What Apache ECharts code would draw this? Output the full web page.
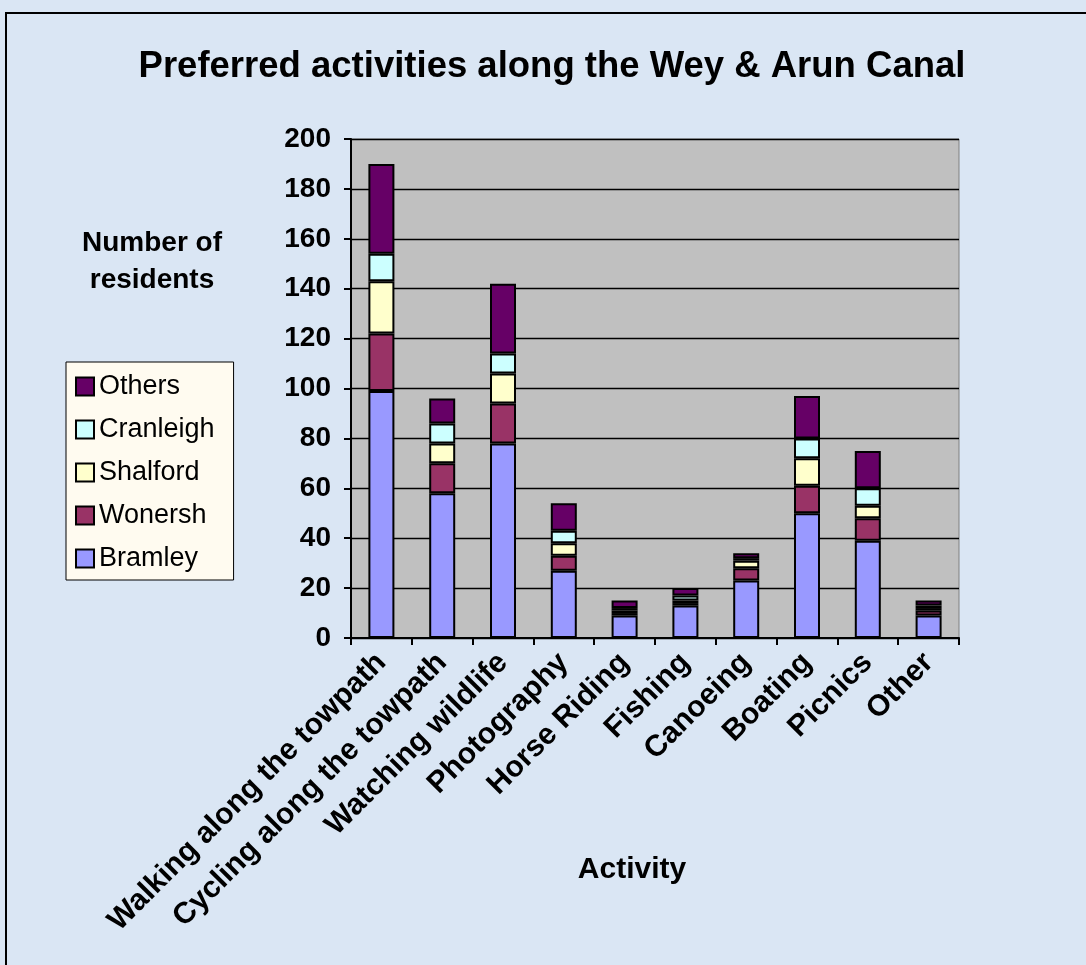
<!DOCTYPE html>
<html lang="en">
<head>
    <meta charset="UTF-8">
    <title>Wey & Arun Canal activities</title>
    <script src="https://cdn.jsdelivr.net/npm/echarts@6/dist/echarts.min.js"></script>
    <style>
        html, body { margin: 0; padding: 0; background: #dae6f4; }
    </style>
</head>
<body>
    <div id="chart" style="width: 1086px; height: 965px;"></div>
    <script>
        // categories and values
        var activities = ['Walking along the towpath', 'Cycling along the towpath', 'Watching wildlife',
            'Photography', 'Horse Riding', 'Fishing', 'Canoeing', 'Boating', 'Picnics', 'Other']
        var bramley   = [99, 58, 78, 27, 9, 13, 23, 50, 39, 9]
        var wonersh   = [23, 12, 16, 6, 1, 1, 5, 11, 9, 2]
        var shalford  = [21, 8, 12, 5, 1, 1, 3, 11, 5, 1]
        var cranleigh = [11, 8, 8, 5, 1, 2, 1, 8, 7, 1]
        var others    = [36, 10, 28, 11, 3, 3, 2, 17, 15, 2]
        var legendOrder = ['Others', 'Cranleigh', 'Shalford', 'Wonersh', 'Bramley']

        var font = 'Liberation Sans, Arial, sans-serif'

        function stackSeries(name, data, color) {
            return {
                name: name,
                type: 'bar',
                stack: 'total',
                barWidth: 26,
                data: data,
                itemStyle: { color: color, borderColor: '#000', borderWidth: 2 }
            }
        }

        var chart = echarts.init(document.getElementById('chart'))

        var option = {
            backgroundColor: '#dae6f4',
            animation: false,
            textStyle: { fontFamily: font },
            graphic: [
                {
                    type: 'rect',
                    shape: { x: 6, y: 13, width: 1200, height: 1200 },
                    style: { fill: 'none', stroke: '#000', lineWidth: 2 }
                },
                {
                    type: 'text', x: 552, y: 67,
                    style: { text: 'Preferred activities along the Wey & Arun Canal', font: 'bold 36.5px ' + font,
                        fill: '#000', textAlign: 'center', textVerticalAlign: 'middle' }
                },
                {
                    type: 'text', x: 152, y: 262,
                    style: { text: 'Number of\nresidents', font: 'bold 28px ' + font, lineHeight: 37,
                        fill: '#000', textAlign: 'center', textVerticalAlign: 'middle' }
                },
                {
                    type: 'text', x: 632, y: 870,
                    style: { text: 'Activity', font: 'bold 30px ' + font,
                        fill: '#000', textAlign: 'center', textVerticalAlign: 'middle' }
                }
            ],
            legend: {
                data: legendOrder,
                orient: 'vertical',
                left: 66,
                top: 362,
                icon: 'rect',
                itemWidth: 18,
                itemHeight: 18,
                itemGap: 16,
                padding: [11, 19, 8, 9],
                backgroundColor: '#fffbf0',
                borderColor: '#000',
                borderWidth: 1,
                textStyle: { fontSize: 27, color: '#000', fontFamily: font }
            },
            grid: {
                left: 351, top: 139, width: 608, height: 499,
                show: true,
                backgroundColor: '#c0c0c0',
                borderColor: '#808080',
                borderWidth: 1
            },
            xAxis: {
                type: 'category',
                data: activities,
                axisLine: { lineStyle: { color: '#000', width: 2 } },
                axisTick: { show: true, length: 7, lineStyle: { color: '#000', width: 2 } },
                axisLabel: { rotate: 45, margin: 20, fontSize: 30, fontWeight: 'bold', color: '#000', fontFamily: font, interval: 0 }
            },
            yAxis: {
                type: 'value',
                min: 0, max: 200, interval: 20,
                axisLine: { show: true, lineStyle: { color: '#000', width: 2 } },
                axisTick: { show: true, length: 7, lineStyle: { color: '#000', width: 2 } },
                axisLabel: { margin: 20, fontSize: 28, fontWeight: 'bold', color: '#000', fontFamily: font },
                splitLine: { lineStyle: { color: '#000', width: 1.3 } }
            },
            series: [
                stackSeries('Bramley', bramley, '#9999ff'),
                stackSeries('Wonersh', wonersh, '#993366'),
                stackSeries('Shalford', shalford, '#ffffcc'),
                stackSeries('Cranleigh', cranleigh, '#ccffff'),
                stackSeries('Others', others, '#660066')
            ]
        }

        chart.setOption(option)
    </script>
</body>
</html>
